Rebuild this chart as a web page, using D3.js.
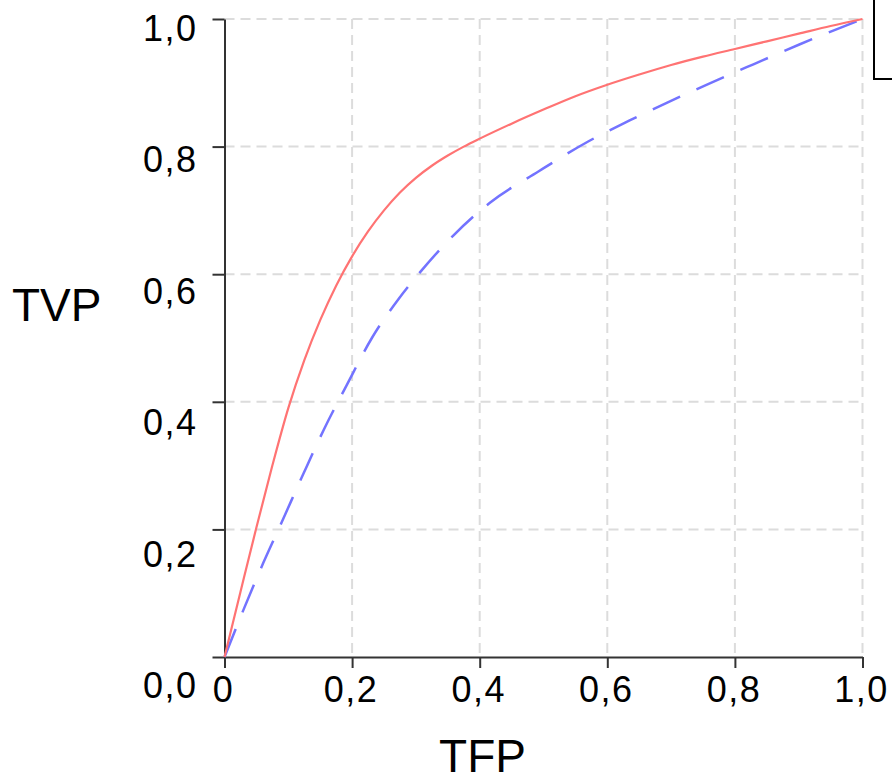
<!DOCTYPE html>
<html>
<head>
<meta charset="utf-8">
<script src="https://cdn.jsdelivr.net/npm/d3@7"></script>
<style>
body { margin: 0; background: #fff; }
text { font-family: "Liberation Sans", Arial, sans-serif; fill: #000; }
</style>
</head>
<body>
<svg id="chart" width="892" height="782"></svg>
<script>
// ---- data ----
const seriesNames = ["Modelo A", "Modelo B"];
const fprA = [0, 0.025, 0.05, 0.075, 0.1, 0.125, 0.15, 0.175, 0.2, 0.225, 0.25, 0.275, 0.3, 0.325, 0.35, 0.375, 0.4, 0.45, 0.5, 0.55, 0.6, 0.65, 0.7, 0.75, 0.8, 0.85, 0.9, 0.95, 1.0];
const tprA = [0, 0.102, 0.203, 0.300, 0.390, 0.465, 0.528, 0.582, 0.628, 0.667, 0.700, 0.728, 0.751, 0.770, 0.786, 0.800, 0.8125, 0.836, 0.858, 0.879, 0.897, 0.913, 0.928, 0.941, 0.953, 0.965, 0.977, 0.989, 1.0];
const fprB = [0, 0.031, 0.061, 0.090, 0.124, 0.156, 0.192, 0.231, 0.272, 0.309, 0.359, 0.416, 0.492, 0.570, 0.635, 0.694, 0.758, 0.829, 0.901, 1.0];
const tprB = [0, 0.077, 0.148, 0.212, 0.288, 0.357, 0.427, 0.500, 0.560, 0.606, 0.661, 0.712, 0.761, 0.808, 0.841, 0.869, 0.898, 0.929, 0.960, 1.0];
const tickValues = [0, 0.2, 0.4, 0.6, 0.8, 1.0];
const xTickLabels = ["0", "0,2", "0,4", "0,6", "0,8", "1,0"];
const yTickLabels = ["0,0", "0,2", "0,4", "0,6", "0,8", "1,0"];
const xTitle = "TFP";
const yTitle = "TVP";

// ---- layout ----
const svg = d3.select("#chart");
const pLeft = 224.5, pRight = 862.5, pTop = 19, pBottom = 657;
const x = d3.scaleLinear().domain([0, 1]).range([pLeft, pRight]);
const y = d3.scaleLinear().domain([0, 1]).range([pBottom, pTop]);
const yLab = d3.scaleLinear().domain([0, 1]).range([698, 40.5]);

// grid
const grid = svg.append("g").attr("stroke", "#dcdcdc").attr("stroke-width", 2).attr("stroke-dasharray", "10,6");
grid.selectAll("line.v").data(tickValues.slice(1)).join("line").attr("class", "v")
  .attr("x1", d => x(d)).attr("x2", d => x(d)).attr("y1", pTop).attr("y2", pBottom);
grid.selectAll("line.h").data(tickValues.slice(1)).join("line").attr("class", "h")
  .attr("y1", d => y(d)).attr("y2", d => y(d)).attr("x1", pLeft).attr("x2", pRight);

// axes
const xAxis = svg.append("g").attr("transform", `translate(0,${pBottom})`)
  .call(d3.axisBottom(x).tickValues(tickValues).tickSize(11).tickSizeOuter(0).tickFormat(""));
const yAxis = svg.append("g").attr("transform", `translate(${pLeft},0)`)
  .call(d3.axisLeft(y).tickValues(tickValues).tickSize(12).tickSizeOuter(0).tickFormat(""));
[xAxis, yAxis].forEach(a => {
  a.selectAll("path, line").attr("stroke", "#333").attr("stroke-width", 2);
});

// tick labels
svg.append("g").selectAll("text").data(tickValues).join("text")
  .attr("x", d => x(d) - 1).attr("y", 702)
  .attr("text-anchor", "middle")
  .style("font-size", "36px").style("letter-spacing", "1.5px")
  .text((d, i) => xTickLabels[i]);
svg.append("g").selectAll("text").data(tickValues).join("text")
  .attr("x", 197.5).attr("y", d => yLab(d))
  .attr("text-anchor", "end")
  .style("font-size", "36px").style("letter-spacing", "1.5px")
  .text((d, i) => yTickLabels[i]);

// axis titles
svg.append("text").attr("x", 482.5).attr("y", 772).attr("text-anchor", "middle")
  .style("font-size", "46px").text(xTitle);
svg.append("text").attr("x", 12).attr("y", 320.5).attr("text-anchor", "start")
  .style("font-size", "46px").text(yTitle);

// curves
const line = d3.line().x(d => x(d[0])).y(d => y(d[1])).curve(d3.curveMonotoneX);
svg.append("path").datum(d3.zip(fprB, tprB)).attr("d", line)
  .attr("fill", "none").attr("stroke", "#7373ff").attr("stroke-width", 2.5)
  .attr("stroke-dasharray", "30,18");
svg.append("path").datum(d3.zip(fprA, tprA)).attr("d", line)
  .attr("fill", "none").attr("stroke", "#ff7373").attr("stroke-width", 2.2);

// legend box (cut off by the right edge)
svg.append("rect").attr("x", 874).attr("y", -5).attr("width", 120).attr("height", 84)
  .attr("fill", "#fff").attr("stroke", "#000").attr("stroke-width", 2);
</script>
</body>
</html>
